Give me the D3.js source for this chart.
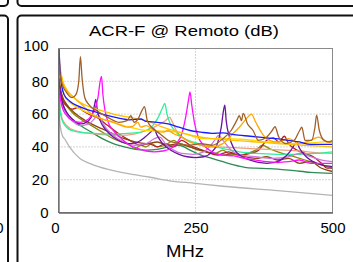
<!DOCTYPE html>
<html>
<head>
<meta charset="utf-8">
<script src="https://cdn.jsdelivr.net/npm/d3@7"></script>
<style>
  body { margin: 0; background: #fff; }
  svg { display: block; font-family: "Liberation Sans", Arial, sans-serif; }
</style>
</head>
<body>
<svg width="353" height="262"></svg>
<script>
// axis ticks
var xTicks = [0, 250, 500];
var yTicks = [0, 20, 40, 60, 80, 100];

// each series: [MHz, dB] pairs
var limitLine = [[1,64],[2,57],[4,51],[7,47],[12,44.5],[20,40],[39,33],[60,29.5],[94,26],[130,23.5],[167,21.5],[200,19.5],[250,17.8],[300,16],[400,13.3],[500,10.5]];
var blue = [[1,100],[3,86],[6,77],[10,72],[20,68],[35,65],[50,63],[70,61],[90,59],[110,57.5],[130,56.5],[150,57],[160,55.5],[180,55],[200,54],[220,52],[240,50],[260,49],[280,48.3],[300,48.5],[320,47.5],[350,46.5],[380,45.5],[410,44.5],[440,43],[460,41.5],[480,41.5],[500,41.5]];
var gold = [[1,95],[4,86],[8,80],[15,75],[25,71],[40,67],[60,64],[80,62],[100,60],[130,58],[160,56],[190,52],[220,49],[250,46.5],[280,45],[320,44],[360,43],[400,42],[450,41],[500,40]];
var yellow = [[1,90],[4,80],[8,74],[15,69],[25,66],[40,63],[60,60],[80,57],[100,55],[130,52],[160,50],[200,49.5],[220,49],[240,47],[260,45],[300,45],[340,44.5],[380,43],[420,42],[460,42.5],[500,43.5]];
var orange = [[1,93],[4,85],[8,79],[15,74],[25,71],[35,68],[45,65],[60,60],[80,57],[100,55],[115,53],[125,52],[135,52.5],[145,55],[150,52],[160,53],[175,50],[190,49],[200,50],[210,48],[225,46],[240,43],[260,41],[280,40],[300,42],[315,47],[330,52],[345,58],[352,60],[360,55],[372,48],[385,44],[400,43],[420,45],[440,42],[460,44],[475,46],[490,43],[500,43]];
var sienna = [[1,90],[4,82],[8,77],[15,73],[25,70],[32,72],[37,80],[40,95],[43,82],[48,70],[55,66],[70,62],[90,58],[110,55],[125,56],[132,59],[138,55],[145,57],[152,62],[157,64.5],[162,56],[170,52],[185,48],[200,44],[220,42],[240,41],[260,42],[280,41],[300,45],[315,50],[325,56],[330,59],[334,56],[337,60.5],[345,54],[355,50],[365,44],[380,46],[390,50],[395,52.3],[402,46],[415,42],[430,44],[440,50],[444,52],[450,44],[462,44],[468,52],[471,59.4],[476,50],[485,44],[495,43],[500,44]];
var darkBrown = [[1,82],[4,75],[8,70],[15,66],[25,62],[40,58],[60,54],[80,51],[100,48],[120,45],[140,43],[160,42],[180,43],[200,41],[220,42],[240,40],[260,38],[280,36],[300,35],[320,36],[340,34],[360,33],[380,34],[400,32],[420,33],[440,30],[460,31],[480,27],[500,25]];
var magenta = [[1,75],[4,68],[8,63],[15,59],[25,56],[40,55],[55,57],[65,62],[72,70],[76,80],[78.5,83],[81,72],[85,62],[92,54],[100,50],[115,45],[130,41],[145,39],[160,37.5],[175,37],[190,37.5],[205,39],[215,42],[225,48],[232,58],[237,68],[240,73.5],[243,66],[248,55],[255,46],[265,41],[280,37],[300,35],[320,34.5],[340,33],[360,32],[380,31],[400,30.5],[420,31],[440,32],[460,30],[480,30],[500,30]];
var purple = [[1,80],[4,72],[8,66],[15,61],[25,57],[40,54],[55,56],[62,60],[66,66],[68,69],[71,62],[76,56],[85,51],[100,46],[115,43],[130,42],[145,43],[158,46],[168,49],[174,51],[180,47],[190,42],[205,38],[220,35.5],[235,34],[250,33.5],[265,34],[280,37],[290,42],[297,52],[301,62],[303.5,65.5],[306,56],[312,46],[320,39],[335,34],[350,32],[365,30.5],[380,30],[395,30.5],[410,33],[422,37],[430,41],[434,43],[440,39],[452,34],[465,31],[480,29],[500,28]];
var orchid = [[1,78],[4,70],[8,65],[15,60],[25,56],[40,53],[55,54],[65,57],[72,60],[78,56],[88,51],[100,47],[120,43],[140,41],[160,42],[175,45],[185,46],[195,42],[210,38],[225,36],[245,35.5],[265,37],[285,44],[292,47],[300,44],[315,38],[335,35],[360,34],[390,33],[420,34],[440,36],[460,34],[480,32],[500,31]];
var springGreen = [[1,70],[3,62],[6,57],[10,54],[18,51],[30,49.5],[50,48.5],[80,48],[110,48],[140,48.5],[160,50],[172,53],[182,58],[190,64],[194,66.5],[198,60],[204,54],[212,50],[225,46],[245,43],[270,41],[300,39],[330,37],[360,36],[400,35.5],[440,35.5],[470,36],[500,37]];
var salmon = [[1,72],[3,64],[6,58],[10,55],[18,52],[30,50],[50,48.5],[80,47.5],[110,47],[140,48],[160,50],[180,53],[195,56],[203,58],[208,55],[215,50],[225,46],[240,43],[260,41],[290,40],[320,39.5],[350,39],[380,38.5],[410,38],[440,37.5],[470,36.5],[500,36]];
var seaGreen = [[1,80],[4,72],[8,66],[15,61],[25,57],[40,53],[60,49],[80,45],[100,42],[120,40],[140,38.5],[160,38],[180,38.5],[200,40],[220,41],[240,38],[260,35],[280,33],[300,31],[320,29],[340,27.5],[360,27],[380,26.8],[400,26.5],[430,25.5],[460,24.5],[500,23.8]];
var olive = [[1,82],[4,74],[8,69],[15,65],[25,61],[40,57],[55,54],[70,51],[85,48],[100,45],[115,43],[130,41],[140,39],[150,41],[160,40],[170,42],[180,40],[195,41],[210,44],[220,42],[240,40],[255,38],[270,37],[285,36],[300,38],[310,36],[330,35],[345,36],[360,38],[372,41],[385,39],[400,37],[420,35],[440,33],[460,31],[480,29],[500,27]];
var firebrick = [[1,80],[4,73],[8,68],[15,65],[25,63],[35,64],[45,62],[55,60],[70,58],[90,53],[110,48],[130,44],[150,41],[165,42],[180,40],[195,42],[210,40],[225,44],[240,41],[255,39],[270,37],[290,35],[310,37],[330,35],[350,36],[365,38],[380,44],[392,45.5],[402,43],[412,46.5],[420,42],[435,38],[450,36],[465,34],[480,30],[490,27],[500,27]];

var series = [
  { values: limitLine, color: "#b4b4b4" },
  { values: seaGreen, color: "#2e8b57" },
  { values: olive, color: "#8b8b10" },
  { values: firebrick, color: "#b22222" },
  { values: darkBrown, color: "#8b4513" },
  { values: salmon, color: "#f0a080" },
  { values: springGreen, color: "#2ef09a" },
  { values: orchid, color: "#cc77dd" },
  { values: purple, color: "#6a11a0" },
  { values: magenta, color: "#ff11ff" },
  { values: yellow, color: "#ffd800" },
  { values: orange, color: "#ffa500" },
  { values: gold, color: "#ffc000" },
  { values: blue, color: "#1a1aff" },
  { values: sienna, color: "#a0602a" }
];

var svg = d3.select("svg");

// neighbouring panels (only their edges show)
var panels = [
  { x: 17.5, y: 15.5, w: 420, h: 320 },
  { x: 17.5, y: -320, w: 420, h: 326 },
  { x: -320, y: 15.5, w: 328, h: 320 },
  { x: -320, y: -320, w: 328, h: 326 }
];
svg.selectAll("rect.panel").data(panels).enter().append("rect")
  .attr("class", "panel")
  .attr("x", function(d) { return d.x; })
  .attr("y", function(d) { return d.y; })
  .attr("width", function(d) { return d.w; })
  .attr("height", function(d) { return d.h; })
  .attr("rx", 4)
  .attr("fill", "#fff")
  .attr("stroke", "#111")
  .attr("stroke-width", 2);

// clipped tick label of the panel on the left
svg.append("text")
  .attr("x", 3.5).attr("y", 232.5)
  .attr("text-anchor", "end")
  .attr("font-size", 15)
  .text("500");

var plotL = 58.5, plotR = 332.5, plotT = 48.5, plotB = 212.5;

var x = d3.scaleLinear().domain([0, 500]).range([plotL, plotR]);
var y = d3.scaleLinear().domain([0, 100]).range([plotB, plotT]);

// grid
svg.append("g").selectAll("line").data(yTicks.slice(1, -1)).enter().append("line")
  .attr("x1", plotL).attr("x2", plotR)
  .attr("y1", function(d) { return y(d); }).attr("y2", function(d) { return y(d); })
  .attr("stroke", "#aaa").attr("stroke-dasharray", "1,2");
svg.append("g").selectAll("line").data(xTicks.slice(1, -1)).enter().append("line")
  .attr("x1", function(d) { return x(d); }).attr("x2", function(d) { return x(d); })
  .attr("y1", plotT).attr("y2", plotB)
  .attr("stroke", "#aaa").attr("stroke-dasharray", "1,2");

svg.append("clipPath").attr("id", "clip")
  .append("rect").attr("x", plotL).attr("y", plotT).attr("width", plotR - plotL).attr("height", plotB - plotT);

var line = d3.line()
  .x(function(d) { return x(d[0]); })
  .y(function(d) { return y(d[1]); })
  .curve(d3.curveMonotoneX);

svg.append("g").attr("clip-path", "url(#clip)")
  .selectAll("path").data(series).enter().append("path")
  .attr("d", function(d) { return line(d.values); })
  .attr("fill", "none")
  .attr("stroke", function(d) { return d.color; })
  .attr("stroke-width", 1.3)
  .attr("stroke-linejoin", "round");

// plot frame
svg.append("rect")
  .attr("x", plotL).attr("y", plotT)
  .attr("width", plotR - plotL).attr("height", plotB - plotT)
  .attr("fill", "none").attr("stroke", "#8a8a8a").attr("stroke-width", 1);

// axes
var xAxis = svg.append("g")
  .attr("transform", "translate(0," + plotB + ")")
  .call(d3.axisBottom(x).tickValues(xTicks).tickSize(0).tickPadding(6));
xAxis.select(".domain").attr("stroke", "#666").attr("stroke-width", 1.3);
xAxis.selectAll("text").attr("font-size", 15).attr("font-family", null).attr("fill", "#000")
  .attr("dy", "0.71em").attr("y", 9.5);
xAxis.selectAll(".tick").filter(function(d) { return d === 0; })
  .select("text").attr("text-anchor", "end").attr("x", 0.5);

var yAxis = svg.append("g")
  .attr("transform", "translate(" + plotL + ",0)")
  .call(d3.axisLeft(y).tickValues(yTicks).tickSize(0).tickPadding(10));
yAxis.select(".domain").attr("stroke", "#666").attr("stroke-width", 1.3);
yAxis.selectAll("text").attr("font-size", 15).attr("font-family", null).attr("fill", "#000");
yAxis.selectAll(".tick").filter(function(d) { return d === 100; })
  .select("text").attr("dy", "0.1em");

// title and axis label
svg.append("text")
  .attr("x", 184).attr("y", 36)
  .attr("text-anchor", "middle")
  .attr("font-size", 15.5)
  .attr("textLength", 190).attr("lengthAdjust", "spacingAndGlyphs")
  .text("ACR-F @ Remoto (dB)");

svg.append("text")
  .attr("x", 185).attr("y", 256.5)
  .attr("text-anchor", "middle")
  .attr("font-size", 16)
  .attr("textLength", 38).attr("lengthAdjust", "spacingAndGlyphs")
  .text("MHz");
</script>
</body>
</html>
